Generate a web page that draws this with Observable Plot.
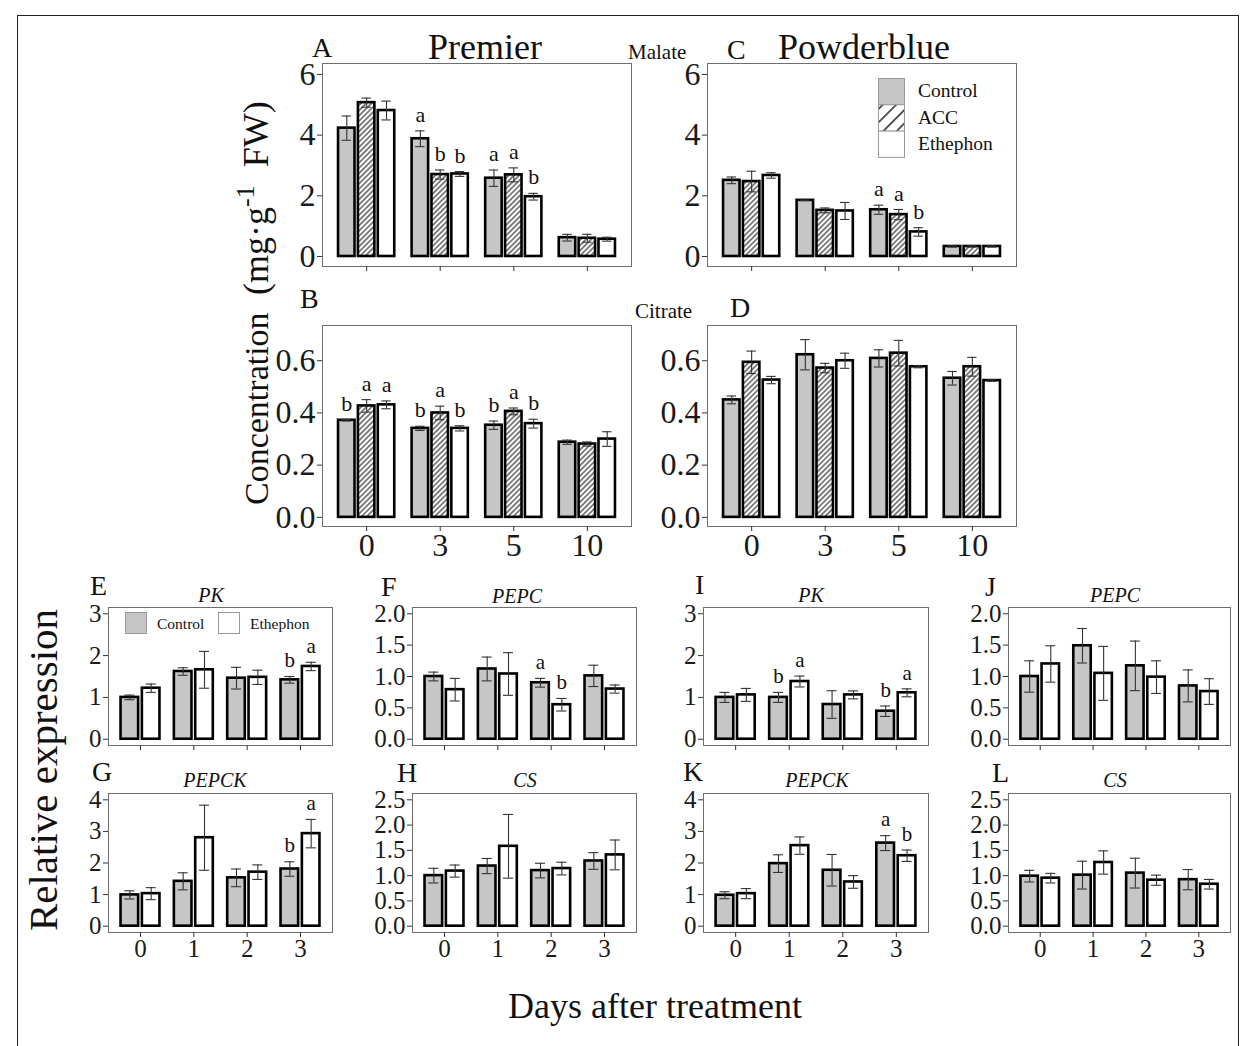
<!DOCTYPE html>
<html><head><meta charset="utf-8">
<script src="https://cdn.jsdelivr.net/npm/d3@7"></script>
<script src="https://cdn.jsdelivr.net/npm/@observablehq/plot@0.6"></script>
<style>
body{margin:0;background:#fff;}
#fig{position:relative;width:1250px;height:1046px;overflow:hidden;background:#fff;}
</style></head><body>
<svg width="0" height="0" style="position:absolute">
<defs>
<pattern id="hatch" patternUnits="userSpaceOnUse" width="3.7" height="3.7" patternTransform="rotate(45)">
<rect width="3.7" height="3.7" fill="#fff"/>
<line x1="1.85" y1="0" x2="1.85" y2="3.7" stroke="#2a2a2a" stroke-width="1.15"/>
</pattern>
<pattern id="hatchKey" patternUnits="userSpaceOnUse" width="9.5" height="9.5" patternTransform="rotate(45)">
<rect width="9.5" height="9.5" fill="#fff"/>
<line x1="4.75" y1="0" x2="4.75" y2="9.5" stroke="#111" stroke-width="1.4"/>
</pattern>
</defs></svg>
<div id="fig"></div>
<script>
const serif = '"Liberation Serif","Times New Roman",Times,serif';

// ---------- categories ----------
const acidDays = ["0", "3", "5", "10"];
const geneDays = ["0", "1", "2", "3"];
const acidTreatments = ["Control", "ACC", "Ethephon"];
const geneTreatments = ["Control", "Ethephon"];

// ---------- organic acids (mg·g-1 FW), order: Control, ACC, Ethephon ----------
// A: Premier, malate
const A_mean = [[4.23, 3.88, 2.58, 0.62], [5.07, 2.70, 2.69, 0.60], [4.81, 2.72, 1.97, 0.57]];
const A_se   = [[0.40, 0.26, 0.27, 0.11], [0.15, 0.15, 0.23, 0.13], [0.31, 0.08, 0.11, 0.065]];
const A_sig  = [["", "a", "a", ""], ["", "b", "a", ""], ["", "b", "b", ""]];
// C: Powderblue, malate
const C_mean = [[2.51, 1.85, 1.54, 0.33], [2.47, 1.52, 1.38, 0.33], [2.67, 1.50, 0.81, 0.33]];
const C_se   = [[0.11, 0.01, 0.15, 0.02], [0.34, 0.08, 0.17, 0.02], [0.09, 0.28, 0.14, 0.02]];
const C_sig  = [["", "", "a", ""], ["", "", "a", ""], ["", "", "b", ""]];
// B: Premier, citrate
const B_mean = [[0.372, 0.341, 0.353, 0.288], [0.427, 0.400, 0.406, 0.281], [0.431, 0.341, 0.359, 0.300]];
const B_se   = [[0.003, 0.008, 0.016, 0.008], [0.024, 0.026, 0.013, 0.008], [0.015, 0.010, 0.017, 0.028]];
const B_sig  = [["b", "b", "b", ""], ["a", "a", "a", ""], ["a", "b", "b", ""]];
// D: Powderblue, citrate
const D_mean = [[0.450, 0.623, 0.609, 0.533], [0.594, 0.572, 0.629, 0.577], [0.526, 0.600, 0.577, 0.524]];
const D_se   = [[0.015, 0.058, 0.033, 0.026], [0.043, 0.018, 0.049, 0.036], [0.014, 0.029, 0.004, 0.003]];
const D_sig  = [["", "", "", ""], ["", "", "", ""], ["", "", "", ""]];

// ---------- relative expression, order: Control, Ethephon ----------
const E_mean = [[1.00, 1.62, 1.46, 1.42], [1.22, 1.66, 1.48, 1.74]];
const E_se   = [[0.055, 0.09, 0.26, 0.08], [0.10, 0.44, 0.17, 0.10]];
const E_sig  = [["", "", "", "b"], ["", "", "", "a"]];
const F_mean = [[1.00, 1.12, 0.90, 1.01], [0.79, 1.04, 0.55, 0.80]];
const F_se   = [[0.07, 0.19, 0.07, 0.17], [0.18, 0.34, 0.10, 0.065]];
const F_sig  = [["", "", "a", ""], ["", "", "b", ""]];
const G_mean = [[0.99, 1.42, 1.53, 1.81], [1.03, 2.80, 1.71, 2.93]];
const G_se   = [[0.13, 0.27, 0.28, 0.23], [0.19, 1.03, 0.23, 0.45]];
const G_sig  = [["", "", "", "b"], ["", "", "", "a"]];
const H_mean = [[1.00, 1.19, 1.10, 1.29], [1.09, 1.58, 1.14, 1.41]];
const H_se   = [[0.145, 0.15, 0.145, 0.165], [0.12, 0.63, 0.125, 0.295]];
const H_sig  = [["", "", "", ""], ["", "", "", ""]];
const I_mean = [[1.00, 1.00, 0.83, 0.67], [1.06, 1.38, 1.06, 1.11]];
const I_se   = [[0.12, 0.12, 0.33, 0.125], [0.155, 0.13, 0.095, 0.095]];
const I_sig  = [["", "b", "", "b"], ["", "a", "", "a"]];
const J_mean = [[1.00, 1.49, 1.17, 0.85], [1.20, 1.05, 0.99, 0.76]];
const J_se   = [[0.25, 0.275, 0.395, 0.255], [0.29, 0.43, 0.26, 0.205]];
const J_sig  = [["", "", "", ""], ["", "", "", ""]];
const K_mean = [[0.98, 1.98, 1.77, 2.63], [1.03, 2.55, 1.40, 2.23]];
const K_se   = [[0.11, 0.28, 0.50, 0.235], [0.16, 0.275, 0.20, 0.18]];
const K_sig  = [["", "", "", "a"], ["", "", "", "b"]];
const L_mean = [[0.99, 1.01, 1.05, 0.92], [0.95, 1.26, 0.91, 0.83]];
const L_se   = [[0.115, 0.275, 0.295, 0.20], [0.095, 0.23, 0.10, 0.095]];
const L_sig  = [["", "", "", ""], ["", "", "", ""]];

// tick values
const ticksMalate = [0, 2, 4, 6];
const ticksCitrate = [0, 0.2, 0.4, 0.6];
const ticks3 = [0, 1, 2, 3];
const ticks4 = [0, 1, 2, 3, 4];
const ticks2 = [0, 0.5, 1, 1.5, 2];
const ticks25 = [0, 0.5, 1, 1.5, 2, 2.5];

const fig = document.getElementById("fig");
const GREY = "#c6c6c6";

function panel(cfg) {
  const {L, R, T, B, ydom, yticks, yfmt, mean, se, sig, labels, showX, tick, letter, offs, half, cap, fills} = cfg;
  const ml = 90, mr = 6, mt = 6, mb = showX ? 50 : 14;
  const rows = [];
  mean.forEach((ser, t) => ser.forEach((m, i) => rows.push({t, i, c: i + offs[t], m, se: se[t][i], s: sig[t][i]})));
  const marks = [];
  fills.forEach((f, t) => {
    marks.push(Plot.rect(rows.filter(d => d.t === t), {
      x1: d => d.c - half, x2: d => d.c + half, y1: 0, y2: "m",
      fill: f, stroke: "#000", strokeWidth: 2.6
    }));
  });
  const eb = {stroke: "#333", strokeWidth: 1.1};
  marks.push(Plot.ruleX(rows, {x: "c", y1: d => d.m - d.se, y2: d => d.m + d.se, ...eb}));
  marks.push(Plot.ruleY(rows, {y: d => d.m + d.se, x1: d => d.c - cap, x2: d => d.c + cap, ...eb}));
  marks.push(Plot.ruleY(rows, {y: d => d.m - d.se, x1: d => d.c - cap, x2: d => d.c + cap, ...eb}));
  marks.push(Plot.text(rows.filter(d => d.s), {x: "c", y: d => d.m + d.se, text: "s", dy: -16, fontSize: letter, fill: "#111"}));
  marks.push(Plot.frame({stroke: "#6e6e6e", strokeWidth: 1}));
  marks.push(Plot.axisY({ticks: yticks, tickFormat: yfmt, tickSize: 5, tickPadding: 2, label: null, fontSize: tick, stroke: "#333"}));
  marks.push(Plot.axisX({ticks: [0, 1, 2, 3], tickFormat: showX ? (i => labels[i]) : (() => ""), tickSize: 5, tickPadding: 2, label: null, fontSize: tick, stroke: "#333"}));
  const svg = Plot.plot({
    width: (R - L) + ml + mr, height: (B - T) + mt + mb,
    marginLeft: ml, marginRight: mr, marginTop: mt, marginBottom: mb,
    x: {domain: [-0.6, 3.6]},
    y: {domain: ydom},
    style: {fontFamily: serif, color: "#1a1a1a", background: "transparent", overflow: "visible", maxWidth: "none"},
    marks
  });
  svg.style.position = "absolute";
  svg.style.left = (L - ml) + "px";
  svg.style.top = (T - mt) + "px";
  fig.appendChild(svg);
}

const acidFills = [GREY, "url(#hatch)", "#fff"];
const geneFills = [GREY, "#fff"];
const fmt1 = d3.format(".1f");
const fmt0 = d => String(d);
const acidCfg = {offs: [-0.27, 0, 0.27], half: 0.112, cap: 0.064, tick: 32, letter: 22, fills: acidFills, labels: acidDays};
const geneCfg = {offs: [-0.2, 0.2], half: 0.165, cap: 0.094, tick: 25, letter: 21, fills: geneFills, labels: geneDays};

panel({...acidCfg, L: 322, R: 631, T: 63, B: 266, ydom: [-0.33, 6.36], yticks: ticksMalate, yfmt: fmt0, mean: A_mean, se: A_se, sig: A_sig, showX: false});
panel({...acidCfg, L: 707, R: 1016, T: 63, B: 266, ydom: [-0.33, 6.36], yticks: ticksMalate, yfmt: fmt0, mean: C_mean, se: C_se, sig: C_sig, showX: false});
panel({...acidCfg, L: 322, R: 631, T: 325, B: 526, ydom: [-0.035, 0.735], yticks: ticksCitrate, yfmt: fmt1, mean: B_mean, se: B_se, sig: B_sig, showX: true});
panel({...acidCfg, L: 707, R: 1016, T: 325, B: 526, ydom: [-0.035, 0.735], yticks: ticksCitrate, yfmt: fmt1, mean: D_mean, se: D_se, sig: D_sig, showX: true});

panel({...geneCfg, L: 108, R: 332, T: 607, B: 745, ydom: [-0.15, 3.15], yticks: ticks3, yfmt: fmt0, mean: E_mean, se: E_se, sig: E_sig, showX: false});
panel({...geneCfg, L: 412, R: 636, T: 607, B: 745, ydom: [-0.1, 2.1], yticks: ticks2, yfmt: fmt1, mean: F_mean, se: F_se, sig: F_sig, showX: false});
panel({...geneCfg, L: 703, R: 928, T: 607, B: 745, ydom: [-0.15, 3.15], yticks: ticks3, yfmt: fmt0, mean: I_mean, se: I_se, sig: I_sig, showX: false});
panel({...geneCfg, L: 1008, R: 1230, T: 607, B: 745, ydom: [-0.1, 2.1], yticks: ticks2, yfmt: fmt1, mean: J_mean, se: J_se, sig: J_sig, showX: false});
panel({...geneCfg, L: 108, R: 332, T: 793, B: 932, ydom: [-0.2, 4.2], yticks: ticks4, yfmt: fmt0, mean: G_mean, se: G_se, sig: G_sig, showX: true});
panel({...geneCfg, L: 412, R: 636, T: 793, B: 932, ydom: [-0.125, 2.625], yticks: ticks25, yfmt: fmt1, mean: H_mean, se: H_se, sig: H_sig, showX: true});
panel({...geneCfg, L: 703, R: 928, T: 793, B: 932, ydom: [-0.2, 4.2], yticks: ticks4, yfmt: fmt0, mean: K_mean, se: K_se, sig: K_sig, showX: true});
panel({...geneCfg, L: 1008, R: 1230, T: 793, B: 932, ydom: [-0.125, 2.625], yticks: ticks25, yfmt: fmt1, mean: L_mean, se: L_se, sig: L_sig, showX: true});

// ---------- overlay: titles, axis titles, legends ----------
const ov = d3.create("svg").attr("width", 1250).attr("height", 1046)
  .style("position", "absolute").style("left", 0).style("top", 0).style("overflow", "visible")
  .attr("font-family", serif).attr("fill", "#111");
ov.append("rect").attr("x", 17.5).attr("y", 15.5).attr("width", 1221).attr("height", 1040).attr("fill", "none").attr("stroke", "#222").attr("stroke-width", 1);

const textItems = [
  ["A", 312, 57, 28, "start", "normal"], ["Premier", 485, 59, 36, "middle", "normal"],
  ["Malate", 628, 59, 21, "start", "normal"], ["C", 727, 59, 28, "start", "normal"],
  ["Powderblue", 864, 59, 36, "middle", "normal"],
  ["B", 300, 308, 28, "start", "normal"], ["Citrate", 635, 318, 21, "start", "normal"], ["D", 730, 317, 28, "start", "normal"],
  ["E", 90, 595, 28, "start", "normal"], ["PK", 211, 602, 20, "middle", "italic"],
  ["F", 381, 596, 28, "start", "normal"], ["PEPC", 517, 603, 20, "middle", "italic"],
  ["I", 695, 594, 28, "start", "normal"], ["PK", 811, 602, 20, "middle", "italic"],
  ["J", 985, 596, 28, "start", "normal"], ["PEPC", 1115, 602, 20, "middle", "italic"],
  ["G", 92, 781, 28, "start", "normal"], ["PEPCK", 215, 787, 20, "middle", "italic"],
  ["H", 397, 782, 28, "start", "normal"], ["CS", 525, 787, 20, "middle", "italic"],
  ["K", 683, 781, 28, "start", "normal"], ["PEPCK", 817, 787, 20, "middle", "italic"],
  ["L", 992, 782, 28, "start", "normal"], ["CS", 1115, 787, 20, "middle", "italic"],
  ["Days after treatment", 655, 1018, 36, "middle", "normal"]
];
textItems.forEach(([t, x, y, s, a, st]) => ov.append("text").attr("x", x).attr("y", y).attr("font-size", s)
  .attr("text-anchor", a).attr("font-style", st).text(t));

ov.append("text").attr("transform", "translate(57,770) rotate(-90)").attr("text-anchor", "middle")
  .attr("font-size", 41).text("Relative expression");
ov.append("text").attr("transform", "translate(268,505) rotate(-90)").attr("text-anchor", "start")
  .attr("font-size", 34).text("Concentration");
const yl = ov.append("text").attr("transform", "translate(268,295) rotate(-90)").attr("text-anchor", "start")
  .attr("font-size", 36).style("white-space", "pre");
yl.append("tspan").text("(mg·g");
yl.append("tspan").attr("dy", -14).attr("font-size", 26).text("-1");
yl.append("tspan").attr("dy", 14).text("  FW)");

// legend in panel C (acid panels)
const keyFills = [GREY, "url(#hatchKey)", "#fff"];
acidTreatments.forEach((t, k) => {
  ov.append("rect").attr("x", 878.5).attr("y", 78.5 + k * 26.3).attr("width", 26).attr("height", 26.3)
    .attr("fill", keyFills[k]).attr("stroke", "#999").attr("stroke-width", 1);
  ov.append("text").attr("x", 918).attr("y", 97 + k * 26.5).attr("font-size", 19.5).text(t);
});
// legend in panel E (gene panels)
const keyFills2 = [GREY, "#fff"];
geneTreatments.forEach((t, k) => {
  ov.append("rect").attr("x", 125.5 + k * 93).attr("y", 612.5).attr("width", 21).attr("height", 21)
    .attr("fill", keyFills2[k]).attr("stroke", "#999").attr("stroke-width", 1);
  ov.append("text").attr("x", 157 + k * 93).attr("y", 629).attr("font-size", 15.5).text(t);
});
fig.appendChild(ov.node());
</script></body></html>
